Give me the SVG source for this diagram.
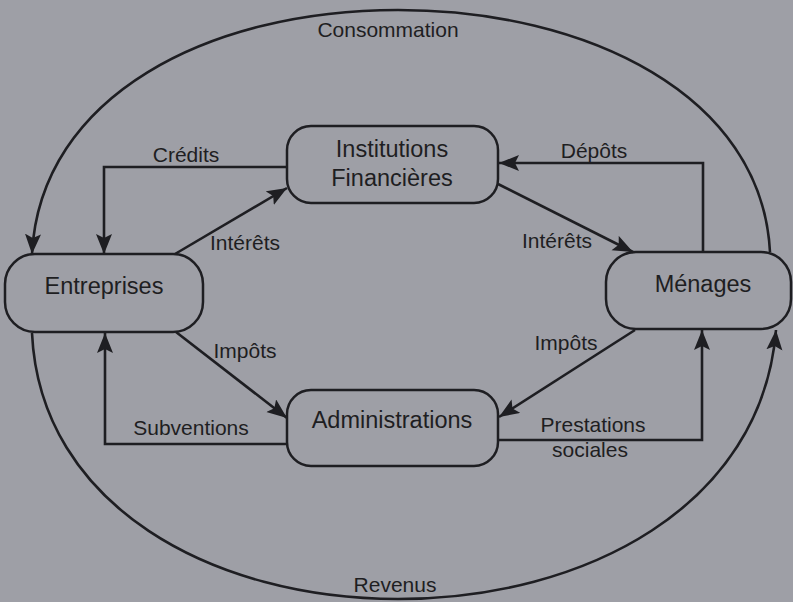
<svg xmlns="http://www.w3.org/2000/svg" width="793" height="602" viewBox="0 0 793 602">
<defs>
<marker id="arr" markerUnits="userSpaceOnUse" markerWidth="22" markerHeight="18" refX="20" refY="8" orient="auto">
<path d="M0,0 L20,8 L0,16 L4,8 z" fill="#1e1e22"/>
</marker>
</defs>
<style>
.box{fill:none;stroke:#1e1e22;stroke-width:2.5}
.ln{fill:none;stroke:#1e1e22;stroke-width:2.6}
.arr{marker-end:url(#arr)}
.nt{font-family:"Liberation Sans",Arial,sans-serif;font-size:23.5px;fill:#1e1e22;text-anchor:middle}
.lt{font-family:"Liberation Sans",Arial,sans-serif;font-size:21px;fill:#1e1e22;text-anchor:middle}
</style>
<rect width="793" height="602" fill="#9e9fa6"/>
<g id="connectors">
<path class="ln arr" d="M770,252 C762,95 587,10 398,10 C210,10 40,95 32,254"/>
<path class="ln arr" d="M32,333 C40,506 213,599 398,599 C585,599 762,506 776,330"/>
<path class="ln arr" d="M287,167 H104 V254"/>
<path class="ln arr" d="M175,254 L287,188"/>
<path class="ln arr" d="M703,252 V163 H499"/>
<path class="ln arr" d="M498,184 L633,252"/>
<path class="ln arr" d="M176,332 L287,418"/>
<path class="ln arr" d="M287,444 H105 V333"/>
<path class="ln arr" d="M635,330 L499,417"/>
<path class="ln arr" d="M498,440 H702 V330"/>
<text class="lt" x="388" y="37">Consommation</text>
<text class="lt" x="395" y="592">Revenus</text>
<text class="lt" x="186" y="162">Crédits</text>
<text class="lt" x="245" y="250">Intérêts</text>
<text class="lt" x="594" y="158">Dépôts</text>
<text class="lt" x="557" y="248">Intérêts</text>
<text class="lt" x="245" y="358">Impôts</text>
<text class="lt" x="191" y="435">Subventions</text>
<text class="lt" x="566" y="350">Impôts</text>
<text class="lt" x="593" y="432">Prestations</text>
<text class="lt" x="590" y="457">sociales</text>
</g>
<g id="entreprises">
<rect class="box" x="5" y="254" width="198" height="78" rx="30"/>
<text class="nt" x="104" y="294">Entreprises</text>
</g>
<g id="institutions">
<rect class="box" x="287" y="126" width="211" height="77" rx="24"/>
<text class="nt" x="392" y="157">Institutions</text>
<text class="nt" x="392" y="186">Financières</text>
</g>
<g id="menages">
<rect class="box" x="606" y="252" width="185" height="77" rx="30"/>
<text class="nt" x="703" y="292">Ménages</text>
</g>
<g id="administrations">
<rect class="box" x="287" y="390" width="211" height="76" rx="24"/>
<text class="nt" x="392" y="428">Administrations</text>
</g>
</svg>
